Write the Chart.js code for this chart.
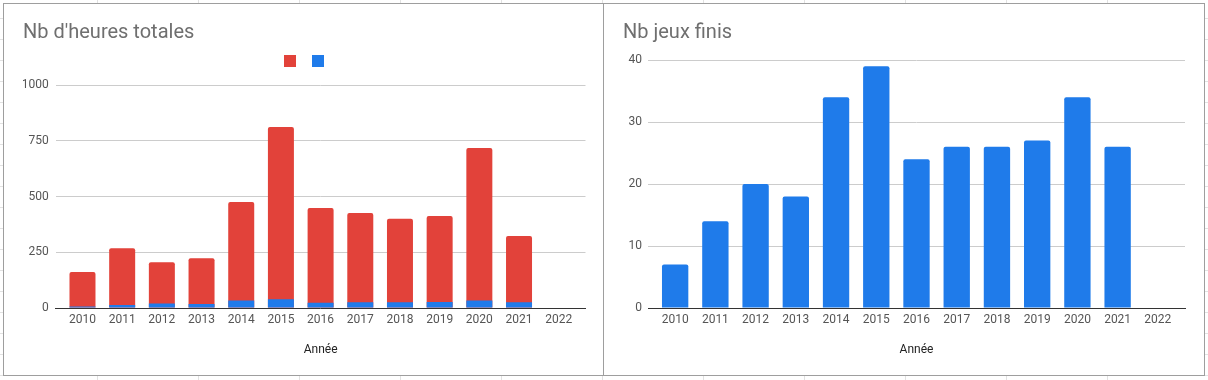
<!DOCTYPE html>
<html><head><meta charset="utf-8">
<script src="https://cdn.jsdelivr.net/npm/chart.js@4.4.0/dist/chart.umd.min.js"></script>
<style>
html,body{margin:0;padding:0}
body{width:1208px;height:380px;position:relative;overflow:hidden;background-color:#fff;
background-image:linear-gradient(to right,#e2e2e2 1px,transparent 1px),linear-gradient(to bottom,#e2e2e2 1px,transparent 1px);
background-size:101px 21px;background-position:97px 18px;}
.panel{position:absolute;top:3px;height:373px;box-sizing:border-box;border:1px solid #9e9e9e;background:#fff}
#p1{left:3px;width:601px}
#p2{left:603px;width:602px}
canvas{position:absolute;top:0}
#c1{left:0}
#c2{left:603px}
</style></head><body>
<div class="panel" id="p1"></div><div class="panel" id="p2"></div>
<canvas id="c1" width="603" height="378"></canvas>
<canvas id="c2" width="602" height="378"></canvas>
<script>
// ---- data ----
const years = [2010, 2011, 2012, 2013, 2014, 2015, 2016, 2017, 2018, 2019, 2020, 2021, 2022];
const hoursTotal = [161, 268, 205, 223, 475, 812, 448, 426, 400, 412, 717, 323, null];
const gamesFinished = [7, 14, 20, 18, 34, 39, 24, 26, 26, 27, 34, 26, null];
const hoursTicks = [0, 250, 500, 750, 1000];
const gamesTicks = [0, 10, 20, 30, 40];
const titleHours = "Nb d'heures totales";
const titleGames = "Nb jeux finis";
const xTitle = "Année";

const RED = '#E2423A';
const BLUE = '#1F7BEA';
const EXT = 0.175;

Chart.defaults.font.family = 'Roboto';
Chart.defaults.animation = false;

function xScale() {
  return {
    type: 'linear', offset: false,
    min: years[0] - 0.5 - EXT, max: years[years.length - 1] + 0.5 + EXT,
    grid: {display: false, drawTicks: false, offset: false},
    border: {display: true, color: '#333', width: 1},
    ticks: {stepSize: 1, includeBounds: false, autoSkip: false, maxRotation: 0, minRotation: 0,
      padding: 5, color: '#555', font: {size: 12},
      callback: (v) => years.includes(v) ? String(v) : ''},
    title: {display: true, text: xTitle, color: '#222', font: {size: 12}, padding: {top: 0, bottom: 21}},
    afterFit: (s) => { s.height = 70; }
  };
}
function yScale(ticks, width, pad) {
  return {
    min: ticks[0], max: ticks[ticks.length - 1],
    grid: {color: '#cccccc', drawTicks: false},
    border: {display: false},
    ticks: {stepSize: ticks[1] - ticks[0], padding: pad, color: '#555', font: {size: 12},
      callback: (v) => String(v)},
    afterFit: (s) => { s.width = width; }
  };
}
const pts = (arr) => years.map((x, i) => ({x: x, y: arr[i]}));

new Chart(document.getElementById('c1'), {
  type: 'bar',
  data: {
    datasets: [
      {label: '', data: pts(hoursTotal), backgroundColor: RED, borderWidth: 0, borderRadius: 2, order: 1},
      {label: '', data: pts(gamesFinished), backgroundColor: BLUE, borderWidth: 0, borderRadius: 0, order: 0}
    ]
  },
  options: {
    responsive: false,
    datasets: {bar: {grouped: false, categoryPercentage: 1, barPercentage: 0.655}},
    layout: {padding: {left: 23, right: 17.5, top: 0, bottom: 0}},
    plugins: {
      title: {display: true, text: titleHours, align: 'start', color: '#6f6f6f',
        font: {size: 20, weight: 'normal', lineHeight: 1}, padding: {top: 23, bottom: -3.5}},
      legend: {display: true, reverse: true, weight: 1700,
        labels: {boxWidth: 12, boxHeight: 12, padding: 15.5, font: {size: 1}}},
      subtitle: {display: true, text: '', weight: 500, padding: 0, font: {size: 8, lineHeight: 1}},
      tooltip: {enabled: false}
    },
    scales: {x: xScale(), y: yScale(hoursTicks, 32.7, 7)}
  }
});

new Chart(document.getElementById('c2'), {
  type: 'bar',
  data: {
    datasets: [
      {label: titleGames, data: pts(gamesFinished), backgroundColor: BLUE, borderWidth: 0, borderRadius: 2}
    ]
  },
  options: {
    responsive: false,
    datasets: {bar: {grouped: false, categoryPercentage: 1, barPercentage: 0.655}},
    layout: {padding: {left: 20, right: 20, top: 0, bottom: 0}},
    plugins: {
      title: {display: true, text: titleGames, align: 'start', color: '#6f6f6f',
        font: {size: 20, weight: 'normal', lineHeight: 1}, padding: {top: 23, bottom: 17}},
      legend: {display: false},
      tooltip: {enabled: false}
    },
    scales: {x: xScale(), y: yScale(gamesTicks, 25, 6)}
  }
});
</script>
</body></html>
